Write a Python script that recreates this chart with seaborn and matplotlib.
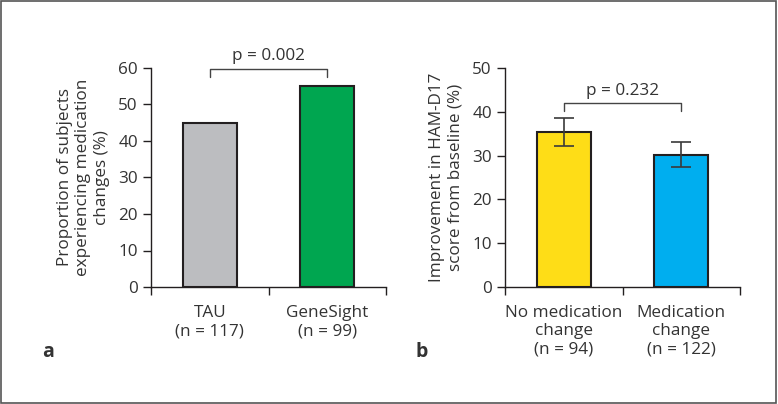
import matplotlib
matplotlib.use("Agg")
import matplotlib.pyplot as plt
import seaborn as sns
import pandas as pd
from matplotlib.patches import Rectangle

sns.set_theme(style="white")
plt.rcParams['font.family'] = ['Open Sans', 'DejaVu Sans']

# Panel a data
a_categories = ["TAU\n(n = 117)", "GeneSight\n(n = 99)"]
a_values = [45, 55]
a_colors = ["#BCBDC0", "#00A650"]
a_p_text = "p = 0.002"
a_yticks = [0, 10, 20, 30, 40, 50, 60]
a_ylabel = "Proportion of subjects\nexperiencing medication\nchanges (%)"

# Panel b data
b_categories = ["No medication\nchange\n(n = 94)", "Medication\nchange\n(n = 122)"]
b_values = [35.3, 30.2]
b_err_low = [32.1, 27.5]
b_err_high = [38.5, 33.0]
b_colors = ["#FEDD17", "#00AEEF"]
b_p_text = "p = 0.232"
b_yticks = [0, 10, 20, 30, 40, 50]
b_ylabel = "Improvement in HAM-D17\nscore from baseline (%)"

edge = "#231F20"
txt = "#333333"
fs = 12.3

fig = plt.figure(figsize=(7.78, 4.04), dpi=100)
axa = fig.add_axes([151/778, 1-287/404, 235/778, 219/404])
axb = fig.add_axes([505/778, 1-287/404, 235/778, 219/404])


def style(ax, yticks, ylabel):
    ax.set_xlim(-0.5, 1.5)
    ax.set_ylim(yticks[0], yticks[-1])
    ax.set_yticks(yticks)
    ax.set_xticks([-0.5, 0.5, 1.5], minor=True)
    for s in ["top", "right"]:
        ax.spines[s].set_visible(False)
    for s in ["left", "bottom"]:
        ax.spines[s].set_color(edge)
        ax.spines[s].set_linewidth(1.0)
    ax.tick_params(axis="y", direction="out", length=6, width=1, color=edge,
                   labelsize=fs, labelcolor=txt, pad=3.5, left=True)
    ax.tick_params(axis="x", which="major", length=0, labelsize=fs,
                   labelcolor=txt, pad=13)
    ax.tick_params(axis="x", which="minor", direction="out", length=6,
                   width=1, color=edge, bottom=True)
    for lab in ax.get_xticklabels():
        lab.set_linespacing(1.2)
    ax.set_xlabel("")
    ax.set_ylabel(ylabel, fontsize=fs, color=txt, linespacing=1.22, labelpad=6)
    ax.set_facecolor("none")


dfa = pd.DataFrame({"cat": a_categories, "val": a_values})
sns.barplot(data=dfa, x="cat", y="val", hue="cat", palette=a_colors,
            saturation=1, width=0.46, edgecolor=edge, linewidth=1.5,
            legend=False, ax=axa)
style(axa, a_yticks, a_ylabel)
# bracket a
axa.plot([0, 0, 1, 1], [57.6, 59.7, 59.7, 57.6], color="#444444", lw=1,
         clip_on=False)
axa.text(0.5, 61.0, a_p_text, ha="center", va="bottom", fontsize=fs,
         color=txt, clip_on=False)

dfb = pd.DataFrame({"cat": b_categories, "val": b_values})
sns.barplot(data=dfb, x="cat", y="val", hue="cat", palette=b_colors,
            saturation=1, width=0.46, edgecolor=edge, linewidth=1.5,
            legend=False, ax=axb)
style(axb, b_yticks, b_ylabel)
yerr = [[v - lo for v, lo in zip(b_values, b_err_low)],
        [hi - v for v, hi in zip(b_values, b_err_high)]]
axb.errorbar([0, 1], b_values, yerr=yerr, fmt="none", ecolor="#3a3a3a",
             elinewidth=1.2, capsize=7, capthick=1.2)
axb.plot([0, 0, 1, 1], [40.2, 41.9, 41.9, 40.2], color="#444444", lw=1)
axb.text(0.5, 43.0, b_p_text, ha="center", va="bottom", fontsize=fs,
         color=txt)

fig.text(48/778, 1-352/404, "a", fontsize=14, fontweight="bold", color=txt,
         ha="center", va="center")
fig.text(422/778, 1-352/404, "b", fontsize=14, fontweight="bold", color=txt,
         ha="center", va="center")

fig.patches.append(Rectangle((0.001, 0.002), 0.997, 0.995, transform=fig.transFigure,
                             fill=False, edgecolor="#555555", lw=1.2))

fig.savefig("out.png", dpi=100)
